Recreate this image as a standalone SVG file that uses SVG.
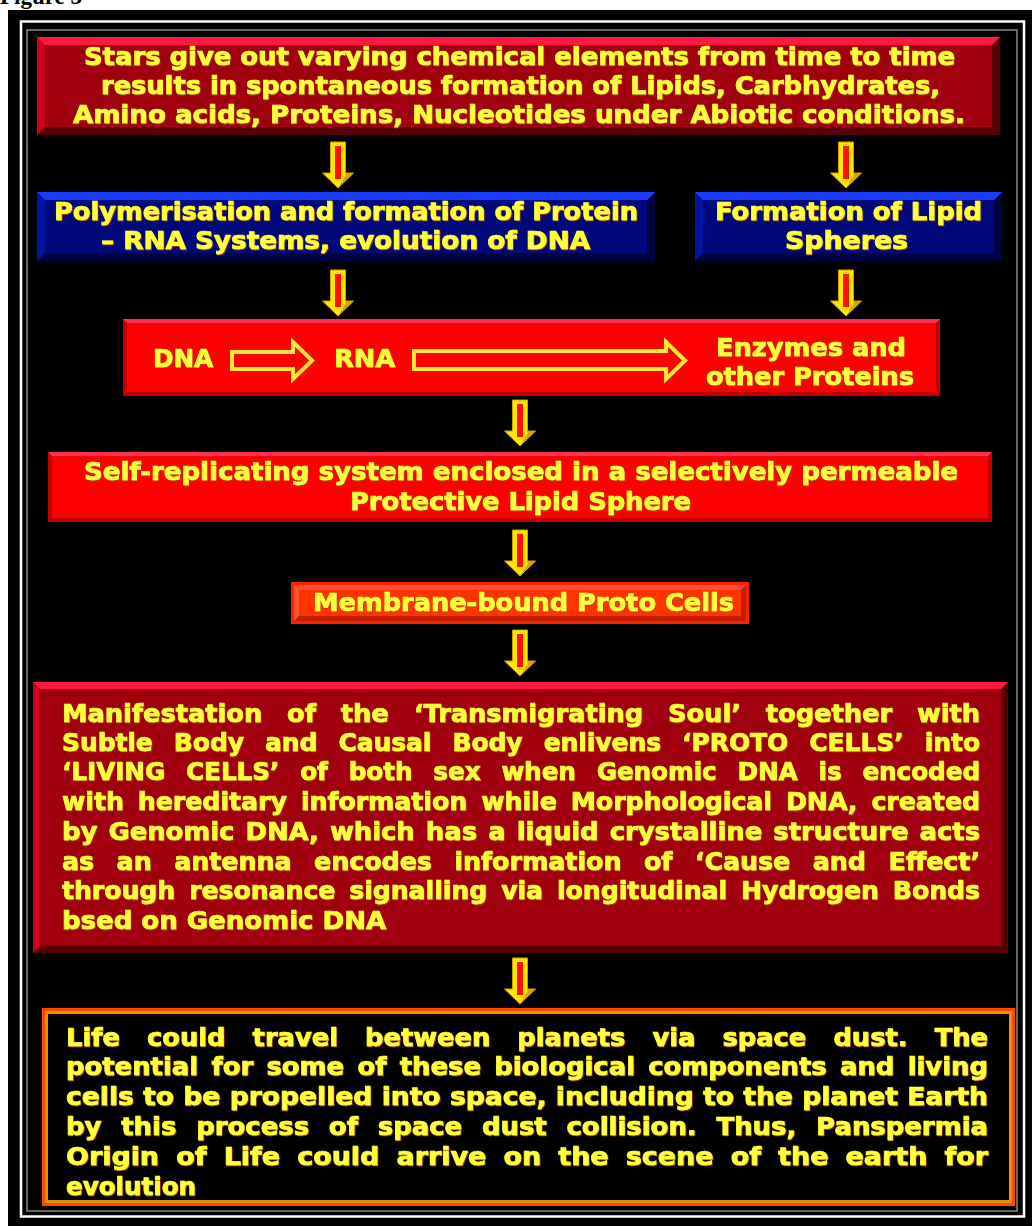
<svg xmlns="http://www.w3.org/2000/svg" width="1032" height="1226" viewBox="0 0 1032 1226">
<defs>
<style>
.t{font-family:"DejaVu Sans","Liberation Sans",sans-serif;font-weight:bold;font-size:24px;fill:#ffff3c;stroke:#ffff3c;stroke-width:0.7;filter:url(#sh)}
.cap{font-family:"Liberation Serif",serif;font-weight:bold;font-size:23px;fill:#000}
.harrow{fill:#ff0000;stroke:#ffe830;stroke-width:4;stroke-linejoin:miter}
</style>
<filter id="sh" x="-5%" y="-20%" width="110%" height="140%">
<feDropShadow dx="0.8" dy="1" stdDeviation="0.3" flood-color="#b04000" flood-opacity="0.9"/>
</filter>
<g id="darrow">
<polygon points="-7.5,0 7.5,0 7.5,31 15.5,31 0,46 -15.5,31 -7.5,31" fill="#ffe600" stroke="#d0a000" stroke-width="1"/>
<polygon points="0,46 15.5,31 7.5,31 7.5,34" fill="#e0a000"/>
<rect x="-3" y="4" width="6" height="33" fill="#ff1000"/>
</g>
</defs>
<rect x="0" y="0" width="1032" height="1226" fill="#ffffff"/>
<text class="cap" x="0" y="4">Figure 3</text>
<rect x="8" y="10" width="1024" height="1216" fill="#000"/>
<rect x="21" y="21.5" width="1003" height="1195" fill="none" stroke="#ffffff" stroke-width="2.5"/>
<rect x="27" y="30" width="990" height="1181" fill="none" stroke="#8a8a8a" stroke-width="1.5"/>

<g id="connectors">
<use href="#darrow" x="338" y="142"/>
<use href="#darrow" x="846" y="142"/>
<use href="#darrow" x="338" y="270"/>
<use href="#darrow" x="846" y="270"/>
<use href="#darrow" x="520" y="400"/>
<use href="#darrow" x="520" y="530"/>
<use href="#darrow" x="520" y="630"/>
<use href="#darrow" x="520" y="958"/>
</g>

<g id="n1">
<rect x="37" y="37" width="963" height="98" fill="#560004"/>
<polygon points="37,37 1000,37 992,45 45,127 37,135" fill="#d0001c"/>
<polygon points="37,37 1000,37 992,45 45,45" fill="#ff1840"/>
<rect x="45" y="45" width="947" height="82" fill="#a0000e"/>
<text class="t" x="84" y="65" textLength="871" lengthAdjust="spacingAndGlyphs">Stars give out varying chemical elements from time to time</text>
<text class="t" x="101" y="94" textLength="839" lengthAdjust="spacingAndGlyphs">results in spontaneous formation of Lipids, Carbhydrates,</text>
<text class="t" x="73" y="123" textLength="892" lengthAdjust="spacingAndGlyphs">Amino acids, Proteins, Nucleotides under Abiotic conditions.</text>
</g>

<g id="n2">
<rect x="37" y="192" width="618" height="69" fill="#000340"/>
<polygon points="37,192 655,192 647,200 45,253 37,261" fill="#0014a0"/>
<polygon points="37,192 655,192 647,200 45,200" fill="#1a3cff"/>
<rect x="45" y="200" width="602" height="53" fill="#00087a"/>
<text class="t" x="54" y="220" textLength="584" lengthAdjust="spacingAndGlyphs">Polymerisation and formation of Protein</text>
<text class="t" x="101" y="249" textLength="489" lengthAdjust="spacingAndGlyphs">– RNA Systems, evolution of DNA</text>
</g>

<g id="n3">
<rect x="695" y="192" width="307" height="69" fill="#000340"/>
<polygon points="695,192 1002,192 994,200 703,253 695,261" fill="#0014a0"/>
<polygon points="695,192 1002,192 994,200 703,200" fill="#1a3cff"/>
<rect x="703" y="200" width="291" height="53" fill="#00087a"/>
<text class="t" x="715" y="220" textLength="267" lengthAdjust="spacingAndGlyphs">Formation of Lipid</text>
<text class="t" x="785" y="249" textLength="123" lengthAdjust="spacingAndGlyphs">Spheres</text>
</g>

<g id="n4">
<rect x="123" y="319" width="817" height="77" fill="#c00000"/>
<polygon points="123,319 940,319 936,323 127,323" fill="#ff3050"/>
<rect x="127" y="323" width="809" height="69" fill="#ff0000"/>
<text class="t" x="153" y="367" textLength="60" lengthAdjust="spacingAndGlyphs">DNA</text>
<polygon class="harrow" points="232,352 293,352 293,342 312,360.5 293,379 293,369 232,369"/>
<text class="t" x="334" y="367" textLength="61" lengthAdjust="spacingAndGlyphs">RNA</text>
<polygon class="harrow" points="414,351 666,351 666,342 685,360.5 666,379 666,369 414,369"/>
<text class="t" x="716" y="356" textLength="190" lengthAdjust="spacingAndGlyphs">Enzymes and</text>
<text class="t" x="706" y="385" textLength="208" lengthAdjust="spacingAndGlyphs">other Proteins</text>
</g>

<g id="n5">
<rect x="48" y="452" width="944" height="70" fill="#c00000"/>
<polygon points="48,452 992,452 988,456 52,456" fill="#ff3050"/>
<rect x="52" y="456" width="936" height="62" fill="#ff0000"/>
<text class="t" x="84" y="480" textLength="874" lengthAdjust="spacingAndGlyphs">Self-replicating system enclosed in a selectively permeable</text>
<text class="t" x="350" y="510" textLength="341" lengthAdjust="spacingAndGlyphs">Protective Lipid Sphere</text>
</g>

<g id="n6">
<rect x="291" y="582" width="458" height="42" fill="#ff2000"/>
<rect x="294" y="585" width="452" height="36" fill="#c02000"/>
<polygon points="294,585 746,585 741,590 299,616 294,621" fill="#ff5030"/>
<rect x="299" y="590" width="442" height="26" fill="#ff3300"/>
<text class="t" x="313" y="611" textLength="421" lengthAdjust="spacingAndGlyphs">Membrane-bound Proto Cells</text>
</g>

<g id="n7">
<rect x="33" y="682" width="975" height="271" fill="#560004"/>
<polygon points="33,682 1008,682 1001,689 40,946 33,953" fill="#d0001c"/>
<polygon points="33,682 1008,682 1001,689 40,689" fill="#ff1840"/>
<rect x="40" y="689" width="961" height="257" fill="#a0000e"/>
<text class="t" x="62" y="722" word-spacing="15" textLength="918" lengthAdjust="spacingAndGlyphs">Manifestation of the ‘Transmigrating Soul’ together with</text>
<text class="t" x="62" y="751" word-spacing="12" textLength="918" lengthAdjust="spacingAndGlyphs">Subtle Body and Causal Body enlivens ‘PROTO CELLS’ into</text>
<text class="t" x="62" y="780" word-spacing="12" textLength="918" lengthAdjust="spacingAndGlyphs">‘LIVING CELLS’ of both sex when Genomic DNA is encoded</text>
<text class="t" x="62" y="810" word-spacing="5" textLength="918" lengthAdjust="spacingAndGlyphs">with hereditary information while Morphological DNA, created</text>
<text class="t" x="62" y="840" word-spacing="2" textLength="918" lengthAdjust="spacingAndGlyphs">by Genomic DNA, which has a liquid crystalline structure acts</text>
<text class="t" x="62" y="870" word-spacing="13" textLength="918" lengthAdjust="spacingAndGlyphs">as an antenna encodes information of ‘Cause and Effect’</text>
<text class="t" x="62" y="899" word-spacing="5" textLength="918" lengthAdjust="spacingAndGlyphs">through resonance signalling via longitudinal Hydrogen Bonds</text>
<text class="t" x="62" y="929" textLength="324" lengthAdjust="spacingAndGlyphs">bsed on Genomic DNA</text>
</g>

<g id="n8">
<rect x="42" y="1008" width="973" height="198" fill="#ff4800"/>
<rect x="45" y="1011" width="967" height="192" fill="#e89000"/>
<rect x="48" y="1014" width="961" height="186" fill="#000000"/>
<text class="t" x="66" y="1046" word-spacing="17" textLength="922" lengthAdjust="spacingAndGlyphs">Life could travel between planets via space dust. The</text>
<text class="t" x="66" y="1075" word-spacing="4" textLength="922" lengthAdjust="spacingAndGlyphs">potential for some of these biological components and living</text>
<text class="t" x="66" y="1105" textLength="922" lengthAdjust="spacingAndGlyphs">cells to be propelled into space, including to the planet Earth</text>
<text class="t" x="66" y="1135" word-spacing="10" textLength="922" lengthAdjust="spacingAndGlyphs">by this process of space dust collision. Thus, Panspermia</text>
<text class="t" x="66" y="1165" word-spacing="7" textLength="922" lengthAdjust="spacingAndGlyphs">Origin of Life could arrive on the scene of the earth for</text>
<text class="t" x="66" y="1195" textLength="130" lengthAdjust="spacingAndGlyphs">evolution</text>
</g>
</svg>
